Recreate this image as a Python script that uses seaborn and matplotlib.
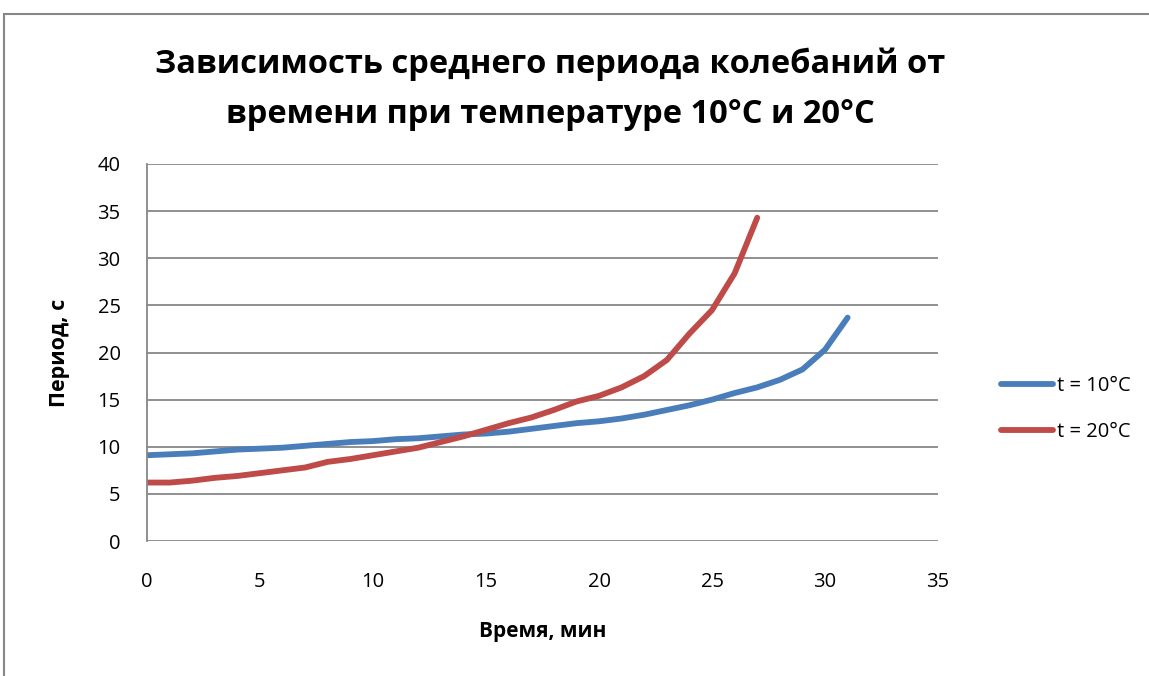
import matplotlib
matplotlib.use("Agg")
import matplotlib.pyplot as plt
from matplotlib.lines import Line2D
import seaborn as sns
import pandas as pd

minutes_10 = list(range(0, 32))
period_10 = [9.1, 9.2, 9.3, 9.5, 9.7, 9.8, 9.9, 10.1, 10.3, 10.5, 10.6, 10.8,
             10.9, 11.1, 11.3, 11.4, 11.6, 11.9, 12.2, 12.5, 12.7, 13.0, 13.4,
             13.9, 14.4, 15.0, 15.7, 16.3, 17.1, 18.2, 20.3, 23.7]
minutes_20 = list(range(0, 28))
period_20 = [6.2, 6.2, 6.4, 6.7, 6.9, 7.2, 7.5, 7.8, 8.4, 8.7, 9.1, 9.5, 9.9,
             10.5, 11.1, 11.8, 12.5, 13.1, 13.9, 14.8, 15.4, 16.3, 17.5, 19.2,
             22.0, 24.5, 28.4, 34.3]
series_names = ["t = 10°C", "t = 20°C"]
colors = ["#4A7EBB", "#BE4B48"]
x_ticks = [0, 5, 10, 15, 20, 25, 30, 35]
y_ticks = [0, 5, 10, 15, 20, 25, 30, 35, 40]
title = "Зависимость среднего периода колебаний от\nвремени при температуре 10°C и 20°C"
xlabel = "Время, мин"
ylabel = "Период, с"

df = pd.concat([
    pd.DataFrame({"x": minutes_10, "y": period_10, "s": series_names[0]}),
    pd.DataFrame({"x": minutes_20, "y": period_20, "s": series_names[1]}),
])

sns.set_theme(style="white")
plt.rcParams["font.family"] = ["Open Sans", "DejaVu Sans"]
plt.rcParams["text.color"] = "black"
plt.rcParams["axes.labelcolor"] = "black"

fig = plt.figure(figsize=(11.49, 6.76), dpi=100)
ax = fig.add_axes([0.1279, 0.1997, 0.6885, 0.5577])

for v in y_ticks:
    ax.axhline(v, color="#878787", lw=1.3, zorder=0)

sns.lineplot(data=df, x="x", y="y", hue="s", palette=colors, linewidth=4.2,
             ax=ax, legend=False, sort=False, solid_capstyle="round",
             solid_joinstyle="round")

ax.set_xlim(0, 35)
ax.set_ylim(0, 40)
ax.set_xticks(x_ticks)
ax.set_yticks(y_ticks)
ax.tick_params(axis="both", length=0, labelsize=14.5, colors="black")
ax.tick_params(axis="x", pad=22)
ax.tick_params(axis="y", pad=19)
for s in ["top", "right", "bottom"]:
    ax.spines[s].set_visible(False)
ax.spines["left"].set_color("#878787")
ax.spines["left"].set_linewidth(1.3)
ax.set_xlabel(xlabel, fontsize=15, fontweight="bold", labelpad=21, color="black")
ax.set_ylabel(ylabel, fontsize=15.5, fontweight="bold", labelpad=20, color="black")

fig.text(0.4787, 0.868, title, ha="center", va="center", fontsize=23.5,
         fontweight="bold", linespacing=1.65, color="black")

handles = [Line2D([0], [0], color=c, lw=4.2, solid_capstyle="round") for c in colors]
leg = fig.legend(handles, series_names, loc="center left",
                 bbox_to_anchor=(0.855, 0.395), frameon=False, fontsize=14.5,
                 handlelength=2.6, handletextpad=0.2, labelspacing=1.25)
for t in leg.get_texts():
    t.set_color("black")

fig.add_artist(plt.Rectangle((0.0035, -0.05), 1.1, 1.03, transform=fig.transFigure,
                             fill=False, edgecolor="#878787", lw=1.5))

fig.savefig("out.png", dpi=100)
